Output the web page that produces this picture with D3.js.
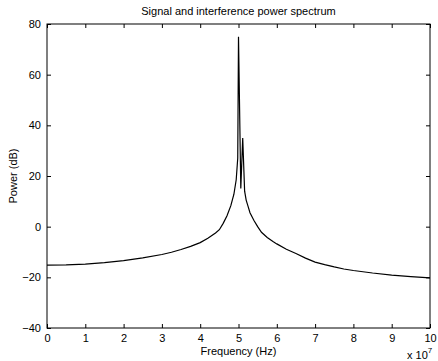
<!DOCTYPE html>
<html>
<head>
<meta charset="utf-8">
<script src="https://cdn.jsdelivr.net/npm/d3@7"></script>
<style>
  body { margin: 0; background: #fff; }
  text { font-family: "Liberation Sans", Arial, sans-serif; }
</style>
</head>
<body>
<svg id="mySvg"></svg>
<script>
// Frequency in units of 1e7 Hz, power in dB
const freq = [0, 0.5, 1, 1.5, 2, 2.5, 3, 3.25, 3.5, 3.75, 4, 4.2, 4.4, 4.5, 4.6, 4.7, 4.8, 4.88, 4.94, 4.98, 5.0,
              5.06, 5.11, 5.16, 5.2, 5.25, 5.3, 5.4, 5.5, 5.6, 5.75, 5.9, 6.0, 6.25, 6.5, 6.75, 7,
              7.25, 7.5, 7.75, 8, 8.5, 9, 9.5, 10];
const power = [-15.2, -15.1, -14.8, -14.2, -13.4, -12.3, -11.0, -10.1, -9.0, -7.8, -6.3, -4.6, -2.5, -1.2, 1.3, 4.3, 8.3, 12.8, 18.5, 27, 75,
               15.1, 35, 14, 10.5, 8, 5.5, 2.5, 0, -2.2, -4.3, -5.9, -6.8, -8.9, -10.6, -12.4, -14.0,
               -15.0, -15.9, -16.7, -17.3, -18.3, -19.1, -19.7, -20.2];
const xTicks = [0, 1, 2, 3, 4, 5, 6, 7, 8, 9, 10];
const yTicks = [-40, -20, 0, 20, 40, 60, 80];

const W = 438, H = 361;
const margin = {top: 24, right: 8, bottom: 33, left: 47};
const width = W - margin.left - margin.right;
const height = H - margin.top - margin.bottom;

const svg = d3.select("#mySvg")
    .attr("width", W)
    .attr("height", H);

svg.append("rect").attr("width", W).attr("height", H).attr("fill", "#fff");

const g = svg.append("g")
    .attr("transform", `translate(${margin.left}, ${margin.top})`);

const x = d3.scaleLinear().domain([0, 10]).range([0, width]);
const y = d3.scaleLinear().domain([-40, 80]).range([height, 0]);

// axes: ticks pointing inward, labels on left/bottom only
function styleAxis(sel) {
    sel.select(".domain").remove();
    sel.selectAll("line").attr("stroke", "#000");
    sel.selectAll("text").attr("fill", "#000").style("font-size", "11px");
}

g.append("g")
    .attr("transform", `translate(0, ${height})`)
    .call(d3.axisBottom(x).tickValues(xTicks).tickSizeInner(-4).tickSizeOuter(0).tickPadding(6))
    .call(styleAxis);
g.append("g")
    .call(d3.axisTop(x).tickValues(xTicks).tickSizeInner(-4).tickSizeOuter(0).tickFormat(""))
    .call(styleAxis);
g.append("g")
    .call(d3.axisLeft(y).tickValues(yTicks).tickSizeInner(-4).tickSizeOuter(0).tickPadding(6))
    .call(styleAxis);
g.append("g")
    .attr("transform", `translate(${width}, 0)`)
    .call(d3.axisRight(y).tickValues(yTicks).tickSizeInner(-4).tickSizeOuter(0).tickFormat(""))
    .call(styleAxis);

// box
g.append("rect")
    .attr("width", width).attr("height", height)
    .attr("fill", "none").attr("stroke", "#000").attr("stroke-width", 1);

// spectrum line
const line = d3.line().x((d, i) => x(freq[i])).y(d => y(d));
g.append("path")
    .datum(power)
    .attr("fill", "none")
    .attr("stroke", "#000")
    .attr("stroke-width", 1.2)
    .attr("d", line);

// title and labels
svg.append("text")
    .attr("x", margin.left + width / 2).attr("y", 15)
    .attr("text-anchor", "middle").style("font-size", "11px")
    .text("Signal and interference power spectrum");

svg.append("text")
    .attr("x", margin.left + width / 2).attr("y", 355)
    .attr("text-anchor", "middle").style("font-size", "11px")
    .text("Frequency (Hz)");

svg.append("text")
    .attr("transform", `translate(17, ${margin.top + height / 2}) rotate(-90)`)
    .attr("text-anchor", "middle").style("font-size", "11px")
    .text("Power (dB)");

const exp = svg.append("text")
    .attr("x", 407).attr("y", 359).style("font-size", "11px");
exp.append("tspan").text("x 10");
exp.append("tspan").attr("dy", -6).style("font-size", "8px").text("7");
</script>
</body>
</html>
